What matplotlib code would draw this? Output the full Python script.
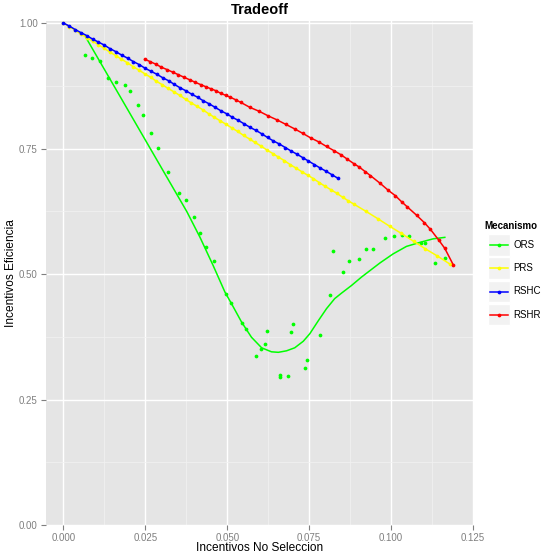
import matplotlib
matplotlib.use("Agg")
import matplotlib.pyplot as plt
from matplotlib.lines import Line2D
from matplotlib.patches import Rectangle

plt.rcParams['font.family'] = ['Liberation Sans', 'DejaVu Sans']

# ---------------- data ----------------
categories = ["ORS", "PRS", "RSHC", "RSHR"]
colors = ["#00FF00", "#FFFF00", "#0000FF", "#FF0000"]

ors_x = [0.0066, 0.0088, 0.0112, 0.0137, 0.0161, 0.0187, 0.0203, 0.0229, 0.0244,
         0.0267, 0.0290, 0.0320, 0.0354, 0.0373, 0.0398, 0.0417, 0.0436, 0.0460,
         0.0497, 0.0513, 0.0546, 0.0558, 0.0587, 0.0604, 0.0615, 0.0621, 0.0660,
         0.0661, 0.0684, 0.0694, 0.0700, 0.0738, 0.0744, 0.0783, 0.0813, 0.0824,
         0.0854, 0.0871, 0.0901, 0.0924, 0.0945, 0.0981, 0.1008, 0.1032, 0.1055,
         0.1092, 0.1103, 0.1133, 0.1166]
ors_y = [0.936, 0.930, 0.925, 0.891, 0.883, 0.877, 0.865, 0.836, 0.817,
         0.780, 0.752, 0.704, 0.662, 0.648, 0.614, 0.581, 0.554, 0.525,
         0.461, 0.442, 0.402, 0.390, 0.337, 0.351, 0.360, 0.386, 0.298,
         0.295, 0.296, 0.385, 0.400, 0.313, 0.329, 0.378, 0.459, 0.545,
         0.504, 0.525, 0.530, 0.549, 0.549, 0.571, 0.575, 0.578, 0.575,
         0.562, 0.562, 0.522, 0.531]

# smoothed ORS trend
ors_smooth_x = [0.0068, 0.0377, 0.0417, 0.0457, 0.0493, 0.0513, 0.0544, 0.0574,
                0.0605, 0.0635, 0.0656, 0.0681, 0.0706, 0.0732, 0.0752, 0.0777,
                0.0803, 0.0828, 0.0849, 0.0879, 0.0910, 0.0966, 0.1006, 0.1047,
                0.1088, 0.1128, 0.1164]
ors_smooth_y = [0.972, 0.624, 0.573, 0.517, 0.464, 0.441, 0.404, 0.374,
                0.353, 0.345, 0.344, 0.347, 0.353, 0.366, 0.381, 0.406,
                0.431, 0.451, 0.462, 0.477, 0.494, 0.522, 0.540, 0.555,
                0.563, 0.570, 0.573]

prs_x = [0.0000, 0.0018, 0.0035, 0.0053, 0.0071, 0.0089, 0.0106, 0.0124, 0.0142,
         0.0160, 0.0177, 0.0195, 0.0213, 0.0231, 0.0248, 0.0266, 0.0284, 0.0302,
         0.0319, 0.0337, 0.0355, 0.0373, 0.0390, 0.0408, 0.0426, 0.0444, 0.0461,
         0.0479, 0.0497, 0.0514, 0.0532, 0.0550, 0.0568, 0.0585, 0.0603, 0.0621,
         0.0639, 0.0656, 0.0674, 0.0692, 0.0710, 0.0727, 0.0745, 0.0763, 0.0781,
         0.0798, 0.0816, 0.0834, 0.0852, 0.0869, 0.0887, 0.0923, 0.0960, 0.0996,
         0.1031, 0.1069, 0.1105, 0.1141, 0.1179]
prs_y = [1.000, 0.993, 0.986, 0.978, 0.971, 0.964, 0.957, 0.950, 0.942,
         0.935, 0.928, 0.921, 0.913, 0.906, 0.899, 0.892, 0.884, 0.877,
         0.870, 0.863, 0.856, 0.848, 0.841, 0.834, 0.827, 0.819, 0.812,
         0.805, 0.798, 0.791, 0.784, 0.776, 0.769, 0.762, 0.755, 0.747,
         0.740, 0.733, 0.726, 0.718, 0.711, 0.704, 0.697, 0.690, 0.682,
         0.675, 0.668, 0.661, 0.653, 0.646, 0.639, 0.625, 0.610, 0.595,
         0.581, 0.565, 0.550, 0.536, 0.520]

rshc_x = [0.0000, 0.0018, 0.0036, 0.0053, 0.0071, 0.0089, 0.0107, 0.0125, 0.0142,
          0.0160, 0.0178, 0.0196, 0.0214, 0.0232, 0.0249, 0.0267, 0.0285, 0.0303,
          0.0321, 0.0338, 0.0356, 0.0374, 0.0392, 0.0410, 0.0427, 0.0445, 0.0463,
          0.0481, 0.0499, 0.0516, 0.0534, 0.0552, 0.0570, 0.0588, 0.0606, 0.0623,
          0.0641, 0.0659, 0.0677, 0.0695, 0.0712, 0.0730, 0.0748, 0.0766, 0.0784,
          0.0801, 0.0819, 0.0837]
rshc_y = [1.000, 0.994, 0.987, 0.981, 0.975, 0.968, 0.962, 0.956, 0.949,
          0.943, 0.936, 0.930, 0.923, 0.917, 0.910, 0.904, 0.898, 0.891,
          0.885, 0.878, 0.871, 0.865, 0.858, 0.852, 0.845, 0.839, 0.832,
          0.825, 0.819, 0.812, 0.806, 0.799, 0.792, 0.786, 0.779, 0.772,
          0.765, 0.759, 0.752, 0.745, 0.739, 0.732, 0.725, 0.718, 0.711,
          0.705, 0.698, 0.691]

rshr_x = [0.0248, 0.0265, 0.0282, 0.0299, 0.0317, 0.0334, 0.0351, 0.0368, 0.0385,
          0.0402, 0.0420, 0.0435, 0.0450, 0.0466, 0.0480, 0.0495, 0.0510, 0.0526,
          0.0541, 0.0569, 0.0598, 0.0625, 0.0652, 0.0679, 0.0706, 0.0731, 0.0755,
          0.0780, 0.0803, 0.0825, 0.0846, 0.0866, 0.0886, 0.0903, 0.0921, 0.0937,
          0.0966, 0.0991, 0.1013, 0.1032, 0.1049, 0.1078, 0.1102, 0.1120, 0.1145,
          0.1164, 0.1190]
rshr_y = [0.928, 0.923, 0.918, 0.912, 0.907, 0.902, 0.897, 0.892, 0.887,
          0.882, 0.877, 0.873, 0.869, 0.865, 0.860, 0.856, 0.852, 0.847,
          0.842, 0.832, 0.824, 0.815, 0.807, 0.798, 0.789, 0.780, 0.771,
          0.763, 0.754, 0.746, 0.738, 0.729, 0.720, 0.713, 0.704, 0.696,
          0.681, 0.667, 0.656, 0.644, 0.634, 0.617, 0.602, 0.589, 0.568,
          0.551, 0.518]

x_ticks = [0.000, 0.025, 0.050, 0.075, 0.100, 0.125]
x_tick_labels = ["0.000", "0.025", "0.050", "0.075", "0.100", "0.125"]
y_ticks = [0.00, 0.25, 0.50, 0.75, 1.00]
y_tick_labels = ["0.00", "0.25", "0.50", "0.75", "1.00"]

title = "Tradeoff"
x_label = "Incentivos No Seleccion"
y_label = "Incentivos Eficiencia"
legend_title = "Mecanismo"

# ---------------- figure ----------------
W, H = 542, 555
fig = plt.figure(figsize=(W / 100, H / 100), dpi=100)

def fx(px):
    return px / W

def fy(py):
    return 1 - py / H

left, right, top, bottom = 46, 473, 21.3, 525
ax = fig.add_axes([fx(left), fy(bottom), (right - left) / W, (bottom - top) / H])
ax.set_facecolor("#E5E5E5")
ax.set_xlim(-0.0053, 0.125)
ax.set_ylim(0, 1.0034)

for s in ax.spines.values():
    s.set_visible(False)

# grid
ax.set_xticks(x_ticks)
ax.set_xticklabels(x_tick_labels)
ax.set_yticks(y_ticks)
ax.set_yticklabels(y_tick_labels)
ax.set_xticks([0.0125, 0.0375, 0.0625, 0.0875, 0.1125], minor=True)
ax.set_yticks([0.125, 0.375, 0.625, 0.875], minor=True)
ax.grid(which="major", color="white", linewidth=1.0)
ax.grid(which="minor", color="#F2F2F2", linewidth=0.5)
ax.set_axisbelow(True)
ax.tick_params(which="major", direction="out", length=3.5, width=0.8,
               color="#7F7F7F", labelcolor="#7F7F7F", labelsize=7, pad=2.5)
ax.tick_params(which="minor", length=0)

lw = 1.1
ms = 2.7
# ORS
ax.plot(ors_smooth_x, ors_smooth_y, color=colors[0], lw=lw, zorder=3,
        solid_joinstyle="round")
ax.plot(ors_x, ors_y, "o", color=colors[0], ms=ms, mec="none", zorder=3)
# PRS
ax.plot(prs_x, prs_y, "-o", color=colors[1], lw=lw, ms=ms, mec="none", zorder=4)
# RSHC
ax.plot(rshc_x, rshc_y, "-o", color=colors[2], lw=lw, ms=ms, mec="none", zorder=5)
# RSHR
ax.plot(rshr_x, rshr_y, "-o", color=colors[3], lw=lw, ms=ms, mec="none", zorder=6)

# texts
fig.text(fx(259.5), fy(10), title, ha="center", va="center",
         fontsize=10.5, fontweight="bold")
fig.text(fx(259.5), fy(548), x_label, ha="center", va="center", fontsize=8.6)
fig.text(fx(11), fy(273), y_label, ha="center", va="center", rotation=90,
         fontsize=8.6)

# legend (manual, ggplot style)
fig.text(fx(484), fy(226), legend_title, ha="left", va="center",
         fontsize=7, fontweight="bold")
row_y = [245.3, 268.3, 291.5, 314.5]
for cat, col, ry in zip(categories, colors, row_y):
    fig.patches.append(Rectangle((fx(488), fy(ry + 10.5)), 21.5 / W, 21.5 / H,
                                 transform=fig.transFigure, facecolor="#F2F2F2",
                                 edgecolor="white", linewidth=1.0))
    fig.lines.append(Line2D([fx(490), fx(507.5)], [fy(ry), fy(ry)],
                            transform=fig.transFigure, color=col, lw=lw))
    fig.lines.append(Line2D([fx(498.7)], [fy(ry)], transform=fig.transFigure,
                            color=col, marker="o", ms=ms, mec="none"))
    fig.text(fx(513), fy(ry), cat, ha="left", va="center", fontsize=7)

fig.savefig("out.png", dpi=100)
